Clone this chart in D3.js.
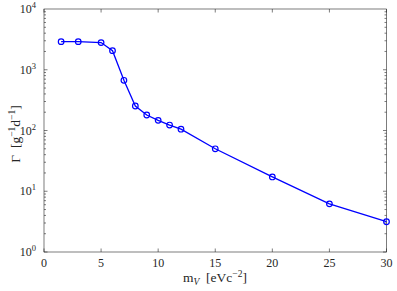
<!DOCTYPE html>
<html><head><meta charset="utf-8">
<script src="https://cdn.jsdelivr.net/npm/d3@7"></script>
<style>body{margin:0;background:#fff}svg{display:block}text{font-family:"Liberation Serif","DejaVu Serif",serif;fill:#262626}</style>
</head><body><svg id="c" width="397" height="291"></svg>
<script>
const massValues = [1.5, 3, 5, 6, 7, 8, 9, 10, 11, 12, 15, 20, 25, 30];
const rateValues = [2900, 2900, 2800, 2060, 670, 253, 180, 147, 123, 105, 50, 17.2, 6.2, 3.15];
const xTicks = [0, 5, 10, 15, 20, 25, 30];
const yDecades = [0, 1, 2, 3, 4];

const svg = d3.select("#c");
const L = 44, R = 386.5, T = 9, B = 252;
const x = d3.scaleLinear().domain([0, 30]).range([L, R]);
const y = d3.scaleLog().domain([1, 10000]).range([B, T]);
const axisColor = "#262626";

svg.append("rect").attr("x", L).attr("y", T).attr("width", R - L).attr("height", B - T)
  .attr("fill", "none").attr("stroke", axisColor).attr("stroke-width", 0.6);

const g = svg.append("g").attr("stroke", axisColor).attr("stroke-width", 0.6);
xTicks.forEach(t => {
  g.append("line").attr("x1", x(t)).attr("x2", x(t)).attr("y1", B).attr("y2", B - 3.5);
  g.append("line").attr("x1", x(t)).attr("x2", x(t)).attr("y1", T).attr("y2", T + 3.5);
});
for (let d = 0; d < 4; d++) {
  for (let m = 1; m <= 9; m++) {
    const v = m * Math.pow(10, d);
    const len = m === 1 ? 3.5 : 2;
    g.append("line").attr("x1", L).attr("x2", L + len).attr("y1", y(v)).attr("y2", y(v));
    g.append("line").attr("x1", R).attr("x2", R - len).attr("y1", y(v)).attr("y2", y(v));
  }
}

svg.append("g").selectAll("text").data(xTicks).join("text")
  .attr("x", d => x(d)).attr("y", B + 15).attr("text-anchor", "middle")
  .attr("font-size", 12).text(d => d);
const yl = svg.append("g").selectAll("text").data(yDecades).join("text")
  .attr("x", 36).attr("y", d => y(Math.pow(10, d)) + 4).attr("text-anchor", "end")
  .attr("font-size", 12);
yl.append("tspan").text("10");
yl.append("tspan").attr("dy", -5).attr("font-size", 8.5).text(d => d);

const xl = svg.append("text").attr("x", 215).attr("y", 282).attr("text-anchor", "middle").attr("font-size", 13.5);
xl.append("tspan").text("m");
xl.append("tspan").attr("dy", 2.5).attr("font-size", 9.5).attr("font-style", "italic").text("V");
xl.append("tspan").attr("dy", -2.5).text("\u2002[eVc");
xl.append("tspan").attr("dy", -5.5).attr("font-size", 9.5).text("−2");
xl.append("tspan").attr("dy", 5.5).text("]");

const ylab = svg.append("text").attr("transform", "translate(20,134) rotate(-90)")
  .attr("text-anchor", "middle").attr("font-size", 13.5);
ylab.append("tspan").text("Γ\u2002[g");
ylab.append("tspan").attr("dy", -5.5).attr("font-size", 9.5).text("−1");
ylab.append("tspan").attr("dy", 5.5).text("d");
ylab.append("tspan").attr("dy", -5.5).attr("font-size", 9.5).text("−1");
ylab.append("tspan").attr("dy", 5.5).text("]");

const pts = massValues.map((m, i) => [m, rateValues[i]]);
svg.append("path").datum(pts)
  .attr("d", d3.line().x(d => x(d[0])).y(d => y(d[1])))
  .attr("fill", "none").attr("stroke", "#0000ff").attr("stroke-width", 1.3);
svg.append("g").selectAll("circle").data(pts).join("circle")
  .attr("cx", d => x(d[0])).attr("cy", d => y(d[1])).attr("r", 2.8)
  .attr("fill", "none").attr("stroke", "#0000ff").attr("stroke-width", 1.2);
</script></body></html>
